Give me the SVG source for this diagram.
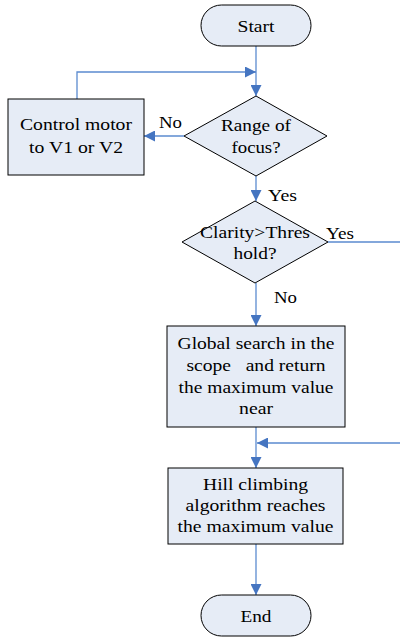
<svg xmlns="http://www.w3.org/2000/svg" width="400" height="638" viewBox="0 0 400 638">
<defs>
<marker id="ah" viewBox="0 0 10 10" refX="10" refY="5" markerWidth="11" markerHeight="11" markerUnits="userSpaceOnUse" orient="auto">
<path d="M0,0 L10,5 L0,10 Z" fill="#4575c1"/>
</marker>
<style>
.n{fill:#e6ecf6;stroke:#000;stroke-width:1}
.t{font-family:"Liberation Serif","Times New Roman",serif;font-size:17px;fill:#000;text-anchor:middle}
.c{fill:none;stroke:#5b8bcf;stroke-width:1.3}
</style>
</defs>
<rect width="400" height="638" fill="#fff"/>
<g id="connectors">
<path class="c" d="M256,46 V96" marker-end="url(#ah)"/>
<path class="c" d="M77,99 V72 H256" marker-end="url(#ah)"/>
<path class="c" d="M184,136 H144" marker-end="url(#ah)"/>
<path class="c" d="M256,176 V201" marker-end="url(#ah)"/>
<path class="c" d="M256,283 V326" marker-end="url(#ah)"/>
<path class="c" d="M328,242 H402 V443 H257" marker-end="url(#ah)"/>
<path class="c" d="M256,427 V468" marker-end="url(#ah)"/>
<path class="c" d="M256,544 V595" marker-end="url(#ah)"/>
<text class="t" x="170.5" y="128" textLength="23" lengthAdjust="spacingAndGlyphs">No</text>
<text class="t" x="282.5" y="201" textLength="29" lengthAdjust="spacingAndGlyphs">Yes</text>
<text class="t" x="340" y="239" textLength="28" lengthAdjust="spacingAndGlyphs">Yes</text>
<text class="t" x="285.5" y="303" textLength="23" lengthAdjust="spacingAndGlyphs">No</text>
</g>
<g id="start">
<rect class="n" x="201" y="5" width="110" height="41" rx="20.5"/>
<text class="t" x="256" y="32" textLength="37" lengthAdjust="spacingAndGlyphs">Start</text>
</g>
<g id="control">
<rect class="n" x="8" y="99" width="136" height="76"/>
<text class="t" x="76" y="130" textLength="112" lengthAdjust="spacingAndGlyphs">Control motor</text>
<text class="t" x="76" y="153" textLength="94" lengthAdjust="spacingAndGlyphs">to V1 or V2</text>
</g>
<g id="range">
<polygon class="n" points="256,96 327,136 256,176 184,136"/>
<text class="t" x="256" y="131" textLength="70" lengthAdjust="spacingAndGlyphs">Range of</text>
<text class="t" x="256" y="153" textLength="49" lengthAdjust="spacingAndGlyphs">focus?</text>
</g>
<g id="clarity">
<polygon class="n" points="255,201 328,242 255,283 182,242"/>
<text class="t" x="255" y="238" textLength="110" lengthAdjust="spacingAndGlyphs">Clarity&gt;Thres</text>
<text class="t" x="255" y="259" textLength="43" lengthAdjust="spacingAndGlyphs">hold?</text>
</g>
<g id="global">
<rect class="n" x="167" y="326" width="178" height="101"/>
<text class="t" x="256" y="349" textLength="157" lengthAdjust="spacingAndGlyphs">Global search in the</text>
<text class="t" x="256" y="371" textLength="139" lengthAdjust="spacingAndGlyphs" xml:space="preserve">scope   and return</text>
<text class="t" x="256" y="393" textLength="155" lengthAdjust="spacingAndGlyphs">the maximum value</text>
<text class="t" x="256" y="414" textLength="34" lengthAdjust="spacingAndGlyphs">near</text>
</g>
<g id="hill">
<rect class="n" x="168" y="468" width="175" height="76"/>
<text class="t" x="255.5" y="490" textLength="105" lengthAdjust="spacingAndGlyphs">Hill climbing</text>
<text class="t" x="255.5" y="511" textLength="140" lengthAdjust="spacingAndGlyphs">algorithm reaches</text>
<text class="t" x="255.5" y="532" textLength="156" lengthAdjust="spacingAndGlyphs">the maximum value</text>
</g>
<g id="end">
<rect class="n" x="201" y="595" width="110" height="41" rx="20.5"/>
<text class="t" x="256" y="622" textLength="31" lengthAdjust="spacingAndGlyphs">End</text>
</g>
</svg>
